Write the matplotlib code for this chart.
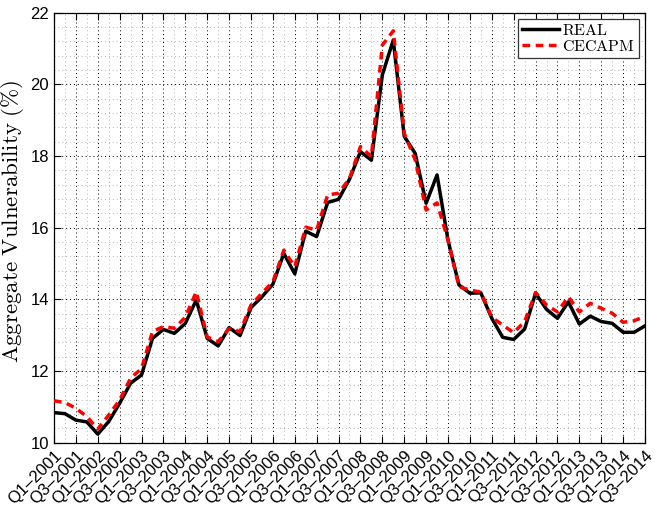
import numpy as np
import matplotlib
matplotlib.use('Agg')
import matplotlib.pyplot as plt
from matplotlib.ticker import MultipleLocator

plt.rcParams['mathtext.fontset'] = 'cm'
plt.rcParams['font.family'] = 'Liberation Sans'

# quarters Q1-2001 .. Q3-2014
quarters = ['Q%d\u20132%03d' % (q, y) for y in range(1, 15) for q in range(1, 5)][:55]

real = [10.84, 10.81, 10.63, 10.58, 10.24, 10.59, 11.10, 11.66, 11.89, 12.91,
        13.16, 13.05, 13.33, 13.98, 12.91, 12.70, 13.21, 12.99, 13.77, 14.07,
        14.42, 15.28, 14.71, 15.90, 15.75, 16.70, 16.79, 17.35, 18.12, 17.88,
        20.26, 21.23, 18.55, 18.07, 16.68, 17.47, 15.65, 14.40, 14.17, 14.18,
        13.47, 12.94, 12.88, 13.17, 14.17, 13.72, 13.47, 13.93, 13.31, 13.53,
        13.38, 13.33, 13.08, 13.08, 13.26]

cecapm = [11.17, 11.12, 10.96, 10.73, 10.38, 10.77, 11.19, 11.80, 12.07, 13.10,
          13.24, 13.19, 13.50, 14.21, 12.95, 12.82, 13.18, 13.10, 13.84, 14.17,
          14.49, 15.37, 14.91, 16.01, 15.93, 16.91, 16.96, 17.37, 18.26, 17.98,
          21.09, 21.49, 18.63, 17.89, 16.49, 16.69, 15.65, 14.35, 14.26, 14.20,
          13.50, 13.28, 13.07, 13.38, 14.19, 13.84, 13.65, 14.07, 13.65, 13.89,
          13.75, 13.61, 13.36, 13.40, 13.53]

x = np.arange(len(real))

fig = plt.figure(figsize=(6.64, 5.07), dpi=100)
ax = fig.add_axes([0.0813, 0.1268, 0.8901, 0.8485])

ax.plot(x, real, color='black', lw=2.5, label=r'$\mathrm{REAL}$', zorder=3)
ax.plot(x, cecapm, color='red', lw=2.5, ls=(0, (2.2, 1.6)), label=r'$\mathrm{CECAPM}$', zorder=4)

ax.set_xlim(0, 54)
ax.set_ylim(10, 22)
ax.set_xticks(x[::2])
ax.set_xticklabels(quarters[::2], rotation=45, ha='right', rotation_mode='anchor', fontsize=12)
ax.xaxis.set_minor_locator(MultipleLocator(1))
ax.yaxis.set_major_locator(MultipleLocator(2))
ax.yaxis.set_minor_locator(MultipleLocator(0.4))
ax.tick_params(axis='y', labelsize=12)
ax.tick_params(which='both', direction='in', top=True, right=True)
ax.tick_params(which='major', length=5, width=0.8)
ax.tick_params(which='minor', length=0)

ax.grid(which='major', ls=(0, (1, 3)), color='black', lw=0.7)
ax.grid(which='minor', ls=(0, (1, 3)), color='#b5b5b5', lw=0.7)
ax.set_axisbelow(True)

for s in ax.spines.values():
    s.set_linewidth(0.9)

ax.set_ylabel(r'$\mathrm{Aggregate\ Vulnerability\ (\%)}$', fontsize=16.5)
ax.yaxis.label.set_va('center')
ax.yaxis.set_label_coords(-0.07, 0.515)

leg = ax.legend(loc='upper right', fontsize=11.5, handlelength=2.3, handletextpad=0.2,
                borderpad=0.25, labelspacing=0.05, fancybox=False, framealpha=1,
                borderaxespad=0.4)
leg.get_frame().set_edgecolor('#333333')
leg.get_frame().set_linewidth(0.9)

fig.savefig('out.png', dpi=100)
